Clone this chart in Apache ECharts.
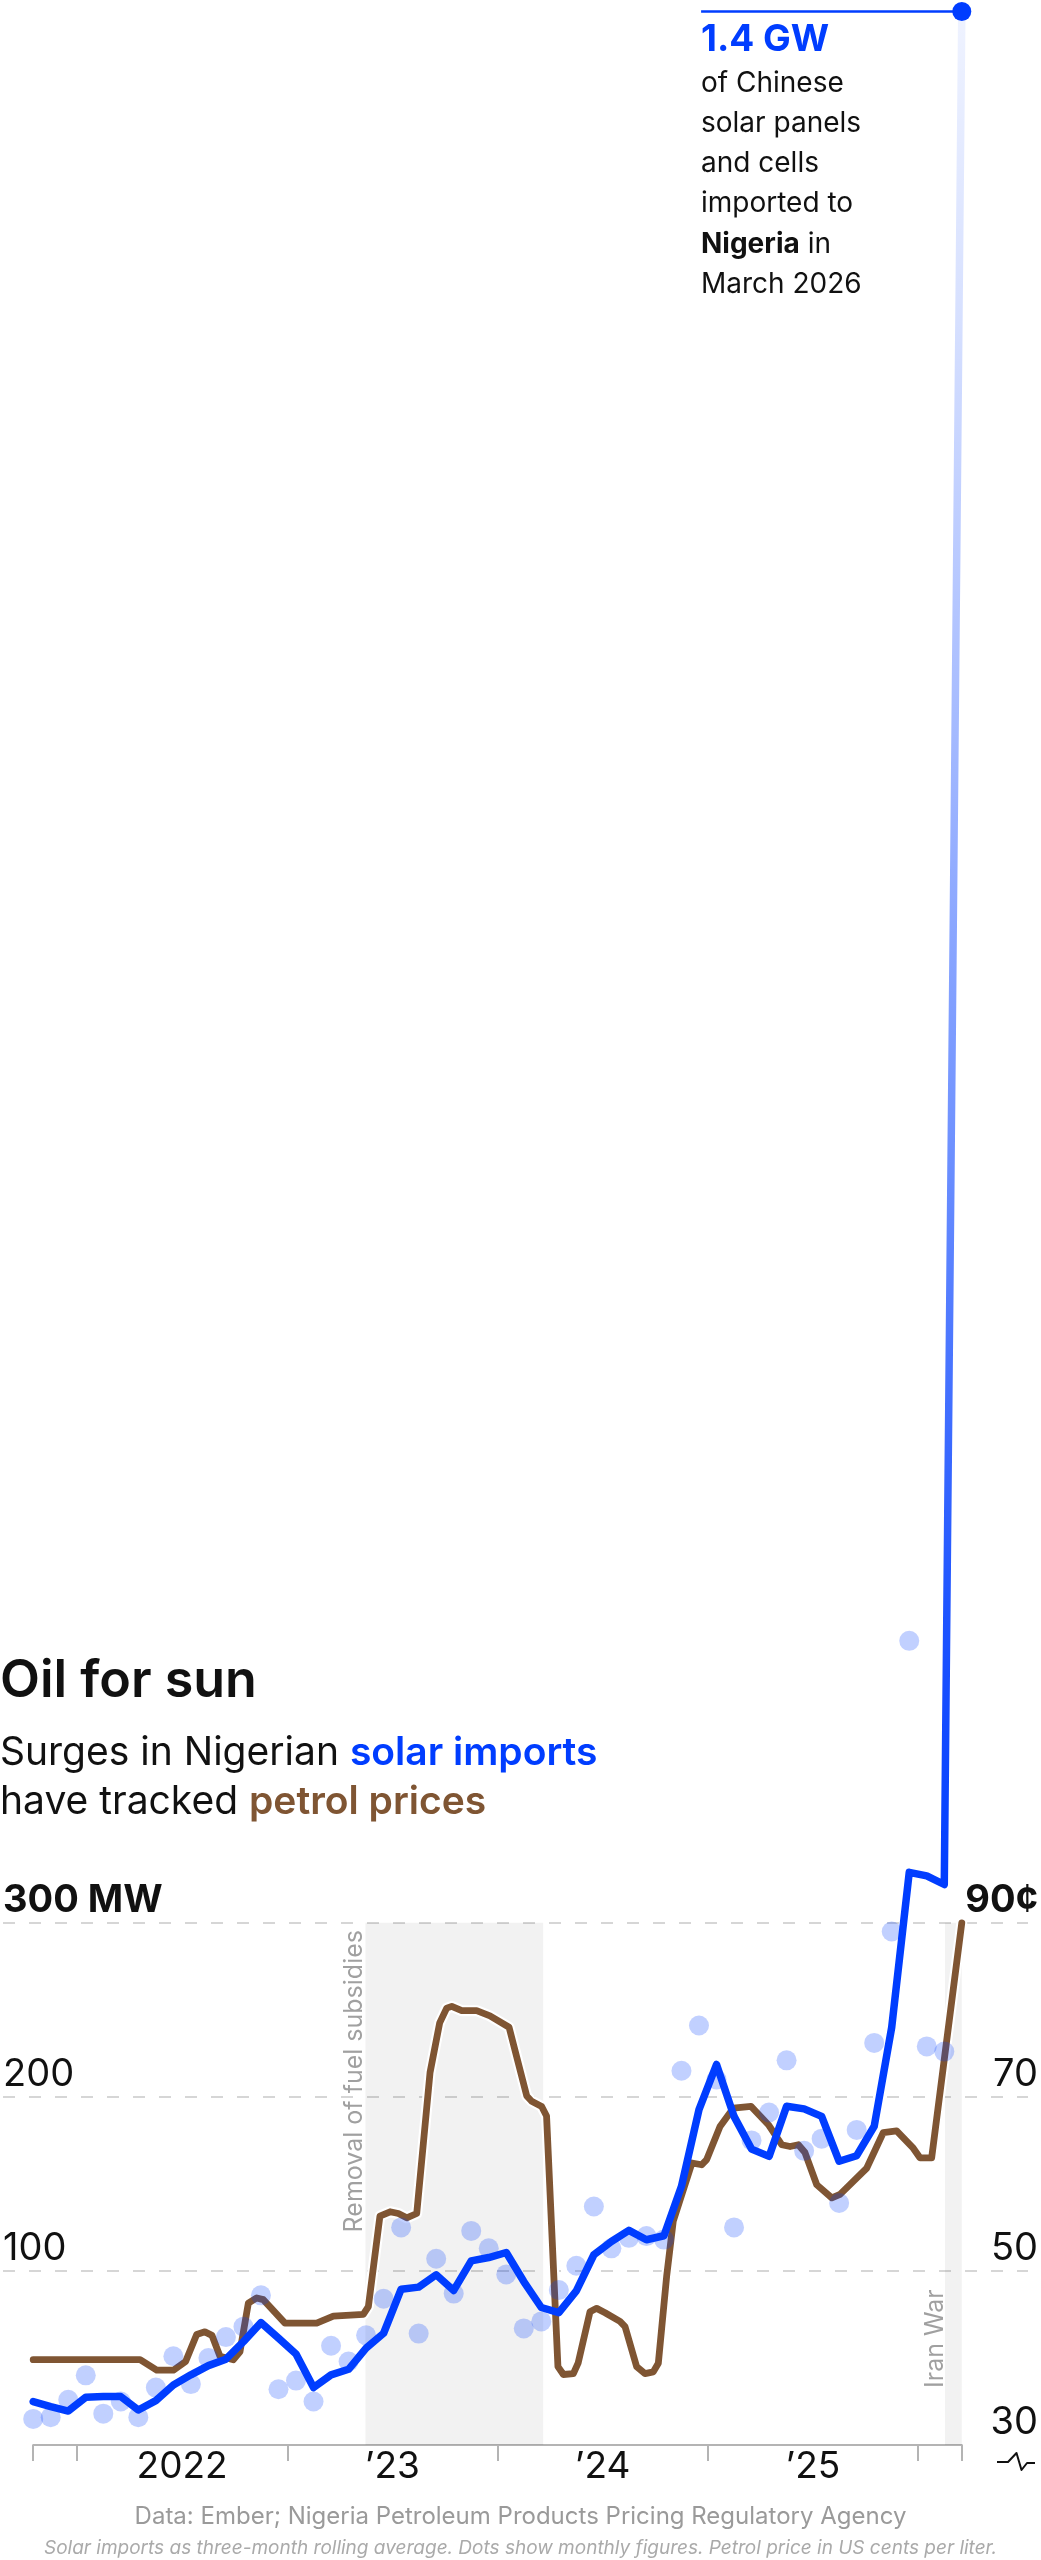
<!DOCTYPE html>
<html>
<head>
<meta charset="utf-8">
<script src="https://cdn.jsdelivr.net/npm/echarts@6/dist/echarts.min.js"></script>
<style>
  html, body { margin: 0; padding: 0; background: #fff; }
  #c { width: 1041px; height: 2560px; }
</style>
</head>
<body>
<div id="c"></div>
<script>
// ---- Data (x = month index, 0 = Oct 2021 ... 53 = Mar 2026) ----
// Monthly solar imports from China (MW), dots
const solarMonthly = [15, 16, 26, 40, 18, 25, 16, 33, 51, 35,
                      50, 62, 68, 86, 32, 37, 25, 57, 48, 63,
                      84, 125, 64, 107, 87, 123, 113, 98, 67, 71,
                      89, 103, 137, 113, 119, 120, 118, 215, 241, 210,
                      125, 175, 191, 221, 169, 176, 139, 181, 231, 295,
                      462, 229, 226];
// Three-month rolling average (MW), line; last value = March 2026 monthly figure
const solarRolling = [24.9, 22, 19.5, 27.4, 27.8, 27.8, 20.1, 25.5, 34.5, 40.3,
                      45.6, 49.3, 59.4, 70.3, 61.4, 52.3, 33.0, 40.3, 43.5, 55.6,
                      64.2, 89.5, 90.7, 97.8, 88.8, 105.8, 107.7, 110.6, 93.9, 79,
                      76, 88.5, 109.3, 116.9, 123.3, 117.9, 120.2, 148.6, 192.7, 218.6,
                      188.8, 170, 165.8, 194.6, 193.1, 188.8, 163, 166.2, 183.1, 240,
                      329, 327, 322, 1398];
// Petrol price (US cents per liter): [month index, cents]
const petrolPrice = [
  [0, 39.8], [6.1, 39.8], [7.05, 38.6], [8.0, 38.6], [8.7, 39.6], [9.33, 42.7], [9.8, 43.0],
  [10.2, 42.6], [10.66, 40.2], [11.42, 39.8], [11.8, 40.7], [12.28, 46.3], [12.76, 46.9],
  [13.13, 46.7], [14.37, 44.0], [16.18, 44.0], [17.13, 44.8], [18.84, 45.0], [19.13, 45.9],
  [19.79, 56.3], [20.37, 56.8], [20.84, 56.6], [21.32, 56.1], [21.89, 56.6], [22.65, 72.8],
  [23.2, 78.5], [23.6, 80.2], [23.89, 80.4], [24.46, 79.9], [25.31, 79.9], [26.07, 79.3],
  [27.16, 78.0], [28.17, 70.1], [28.45, 69.5], [29.02, 68.9], [29.3, 67.8], [29.95, 39.0],
  [30.26, 38.1], [30.83, 38.2], [31.1, 39.4], [31.78, 45.3], [32.16, 45.7], [32.64, 45.2],
  [33.49, 44.2], [33.78, 43.6], [34.44, 39.0], [34.92, 38.2], [35.39, 38.4], [35.68, 39.4],
  [36.16, 49.5], [36.53, 55.7], [37.6, 62.4], [38.15, 62.2], [38.44, 62.8], [39.2, 66.6],
  [39.96, 68.7], [40.97, 68.9], [41.96, 66.8], [42.72, 64.5], [43.2, 64.3], [43.67, 64.5],
  [44.05, 63.6], [44.72, 59.9], [45.58, 58.4], [46.05, 58.8], [47.57, 61.8], [48.52, 65.9],
  [49.28, 66.1], [50.23, 64.1], [50.61, 63.0], [51.28, 63.0], [53, 90.0]
];
// Axis ticks / labels
const yearTickPos = [0, 2.5, 14.5, 26.5, 38.5, 50.5, 53];
const yearLabelPos = [8.5, 20.5, 32.5, 44.5];
const yearLabels = ['2022', '\u201923', '\u201924', '\u201925'];
const leftTicks = ['', '100', '200', '300 MW'];
const rightTicks = ['30', '50', '70', '90\u00a2'];
// Shaded periods (month index)
const bandFrom = [18.96, 52.04];
const bandTo = [29.11, 53];
const bandText = ['Removal of fuel subsidies', 'Iran War'];
const annotationStart = 38.12;

const FONT = 'Inter, "Noto Sans", Roboto, sans-serif';
const BLUE = '#003dff';
const BROWN = '#7f5533';
const INK = '#111111';

const chart = echarts.init(document.getElementById('c'), null, { renderer: 'canvas' });

const solarMax = Math.max.apply(null, solarRolling);
const lastIdx = solarRolling.length - 1;

const blueGradient = new echarts.graphic.LinearGradient(0, 0, 0, 1890, [
  { offset: 0, color: 'rgba(0,61,255,0.06)' },
  { offset: 0.17, color: 'rgba(0,61,255,0.16)' },
  { offset: 0.35, color: 'rgba(0,61,255,0.32)' },
  { offset: 0.6, color: 'rgba(0,61,255,0.56)' },
  { offset: 0.85, color: 'rgba(0,61,255,0.88)' },
  { offset: 1, color: BLUE }
], true);

const option = {
  animation: false,
  backgroundColor: '#ffffff',
  textStyle: { fontFamily: FONT },
  grid: [
    { left: 33.2, right: 79.2, top: 8.1, bottom: 115 },
    { left: 0, right: 11, top: 1922.8, bottom: 115 }
  ],
  xAxis: [
    {
      gridIndex: 0, type: 'value', min: 0, max: 53,
      splitLine: { show: false },
      axisLine: { show: true, onZero: false, lineStyle: { color: '#b4b4b4', width: 2 } },
      axisTick: { show: true, customValues: yearTickPos, length: 16, lineStyle: { color: '#b4b4b4', width: 2 } },
      axisLabel: {
        show: true, customValues: yearLabelPos,
        formatter: function (v) { const i = yearLabelPos.indexOf(v); return i >= 0 ? yearLabels[i] : ''; },
        fontSize: 37, lineHeight: 37, color: INK, margin: 3, fontFamily: FONT
      }
    },
    { gridIndex: 1, type: 'value', min: 0, max: 1, show: false }
  ],
  yAxis: [
    { gridIndex: 0, type: 'value', min: 0, max: 1400, show: false },
    { gridIndex: 0, type: 'value', min: 30, max: 310, show: false },
    {
      gridIndex: 1, type: 'value', min: 0, max: 300, interval: 100, position: 'left',
      axisLine: { show: false }, axisTick: { show: false },
      splitLine: { show: true, showMinLine: false, lineStyle: { color: '#c9c9c9', width: 1.5, type: [12, 14] } },
      axisLabel: {
        inside: true, margin: 0, align: 'left', verticalAlign: 'bottom',
        showMinLabel: false, showMaxLabel: true,
        fontSize: 38, lineHeight: 44, color: INK, fontFamily: FONT,
        formatter: function (v) { const t = leftTicks[Math.round(v / 100)]; return v === 300 ? '{b|' + t + '}' : t; },
        rich: { b: { fontWeight: 'bold', fontSize: 38, lineHeight: 44, color: INK, fontFamily: FONT } }
      }
    },
    {
      gridIndex: 1, type: 'value', min: 0, max: 300, interval: 100, position: 'right',
      axisLine: { show: false }, axisTick: { show: false }, splitLine: { show: false },
      axisLabel: {
        inside: false, margin: 10, align: 'right', verticalAlign: 'bottom',
        showMinLabel: true, showMaxLabel: true,
        fontSize: 38, lineHeight: 44, color: INK, fontFamily: FONT,
        formatter: function (v) { const t = rightTicks[Math.round(v / 100)]; return v === 300 ? '{b|' + t + '}' : t; },
        rich: { b: { fontWeight: 'bold', fontSize: 38, lineHeight: 44, color: INK, fontFamily: FONT } }
      }
    }
  ],
  series: [
    {
      type: 'line', xAxisIndex: 0, yAxisIndex: 1, data: petrolPrice,
      symbol: 'none', silent: true, z: 2,
      lineStyle: { color: '#ffffff', width: 11, join: 'round', cap: 'round' },
      markArea: {
        silent: true,
        itemStyle: { color: 'rgba(0,0,0,0.052)' },
        data: bandFrom.map(function (f, i) { return [{ xAxis: f, yAxis: 30 }, { xAxis: bandTo[i], yAxis: 90 }]; })
      }
    },
    {
      type: 'line', xAxisIndex: 0, yAxisIndex: 1, data: petrolPrice,
      symbol: 'none', silent: true, z: 3,
      lineStyle: { color: BROWN, width: 6.8, join: 'round', cap: 'round' }
    },
    {
      type: 'scatter', xAxisIndex: 0, yAxisIndex: 0,
      data: solarMonthly.map(function (v, i) { return [i, v]; }),
      symbolSize: 20, silent: true, z: 4,
      itemStyle: { color: 'rgba(0,60,255,0.3)' }
    },
    {
      type: 'line', xAxisIndex: 0, yAxisIndex: 0,
      data: solarRolling.map(function (v, i) { return [i, v]; }),
      symbol: 'none', silent: true, z: 5,
      lineStyle: { color: blueGradient, width: 7.5, join: 'round', cap: 'round' },
      markLine: {
        silent: true, symbol: 'none', label: { show: false },
        lineStyle: { color: BLUE, width: 2.5, type: 'solid' },
        data: [[{ coord: [annotationStart, solarMax] }, { coord: [lastIdx, solarMax] }]]
      },
      markPoint: {
        silent: true, symbol: 'circle', symbolSize: 19,
        itemStyle: { color: BLUE }, label: { show: false },
        data: [{ coord: [lastIdx, solarMax] }]
      }
    }
  ],
  graphic: [
    { type: 'text', x: 0, y: 1681, silent: true,
      style: { text: 'Oil for sun', fontSize: 52, fontWeight: 600, fontFamily: FONT, fill: INK, textAlign: 'left', textVerticalAlign: 'middle' } },
    { type: 'text', x: 0, y: 1753, silent: true,
      style: { text: 'Surges in Nigerian {s|solar imports}', fontSize: 39, fontFamily: FONT, fill: INK, textAlign: 'left', textVerticalAlign: 'middle',
        rich: { s: { fontSize: 39, fontFamily: FONT, fontWeight: 600, fill: BLUE, color: BLUE } } } },
    { type: 'text', x: 0, y: 1802.5, silent: true,
      style: { text: 'have tracked {p|petrol prices}', fontSize: 39, fontFamily: FONT, fill: INK, textAlign: 'left', textVerticalAlign: 'middle',
        rich: { p: { fontSize: 39, fontFamily: FONT, fontWeight: 600, fill: BROWN, color: BROWN } } } },
    { type: 'text', x: 701, y: 39.6, silent: true,
      style: { text: '1.4 GW', fontSize: 37, fontWeight: 'bold', fontFamily: FONT, fill: BLUE, textAlign: 'left', textVerticalAlign: 'middle' } },
    { type: 'text', x: 701, y: 63, silent: true,
      style: {
        text: '{n|of Chinese}\n{n|solar panels}\n{n|and cells}\n{n|imported to}\n{b|Nigeria}{n| in}\n{n|March 2026}',
        textAlign: 'left', textVerticalAlign: 'top', fill: INK,
        rich: {
          n: { fontSize: 28, lineHeight: 40.3, fontFamily: FONT, fill: INK, color: INK },
          b: { fontSize: 28, lineHeight: 40.3, fontFamily: FONT, fontWeight: 'bold', fill: INK, color: INK }
        }
      } },
    { type: 'text', x: 354, y: 1930, rotation: Math.PI / 2, silent: true,
      style: { text: bandText[0], fontSize: 25, fontFamily: FONT, fill: '#a0a0a0', textAlign: 'right', textVerticalAlign: 'middle' } },
    { type: 'text', x: 935, y: 2388, rotation: Math.PI / 2, silent: true,
      style: { text: bandText[1], fontSize: 25, fontFamily: FONT, fill: '#a0a0a0', textAlign: 'left', textVerticalAlign: 'middle' } },
    { type: 'polyline', silent: true,
      shape: { points: [[997, 2462], [1008, 2462], [1016.5, 2453], [1021.5, 2470], [1027, 2463], [1035, 2463]] },
      style: { stroke: INK, lineWidth: 2, fill: null, lineJoin: 'round' } },
    { type: 'text', x: 520.5, y: 2516.3, silent: true,
      style: { text: 'Data: Ember; Nigeria Petroleum Products Pricing Regulatory Agency', fontSize: 24, fontFamily: FONT, fill: '#9a9a9a', textAlign: 'center', textVerticalAlign: 'middle' } },
    { type: 'text', x: 520.5, y: 2548, silent: true,
      style: { text: 'Solar imports as three-month rolling average. Dots show monthly figures. Petrol price in US cents per liter.', fontSize: 19, fontStyle: 'italic', fontFamily: FONT, fill: '#aaaaaa', textAlign: 'center', textVerticalAlign: 'middle' } }
  ]
};

chart.setOption(option);
</script>
</body>
</html>
